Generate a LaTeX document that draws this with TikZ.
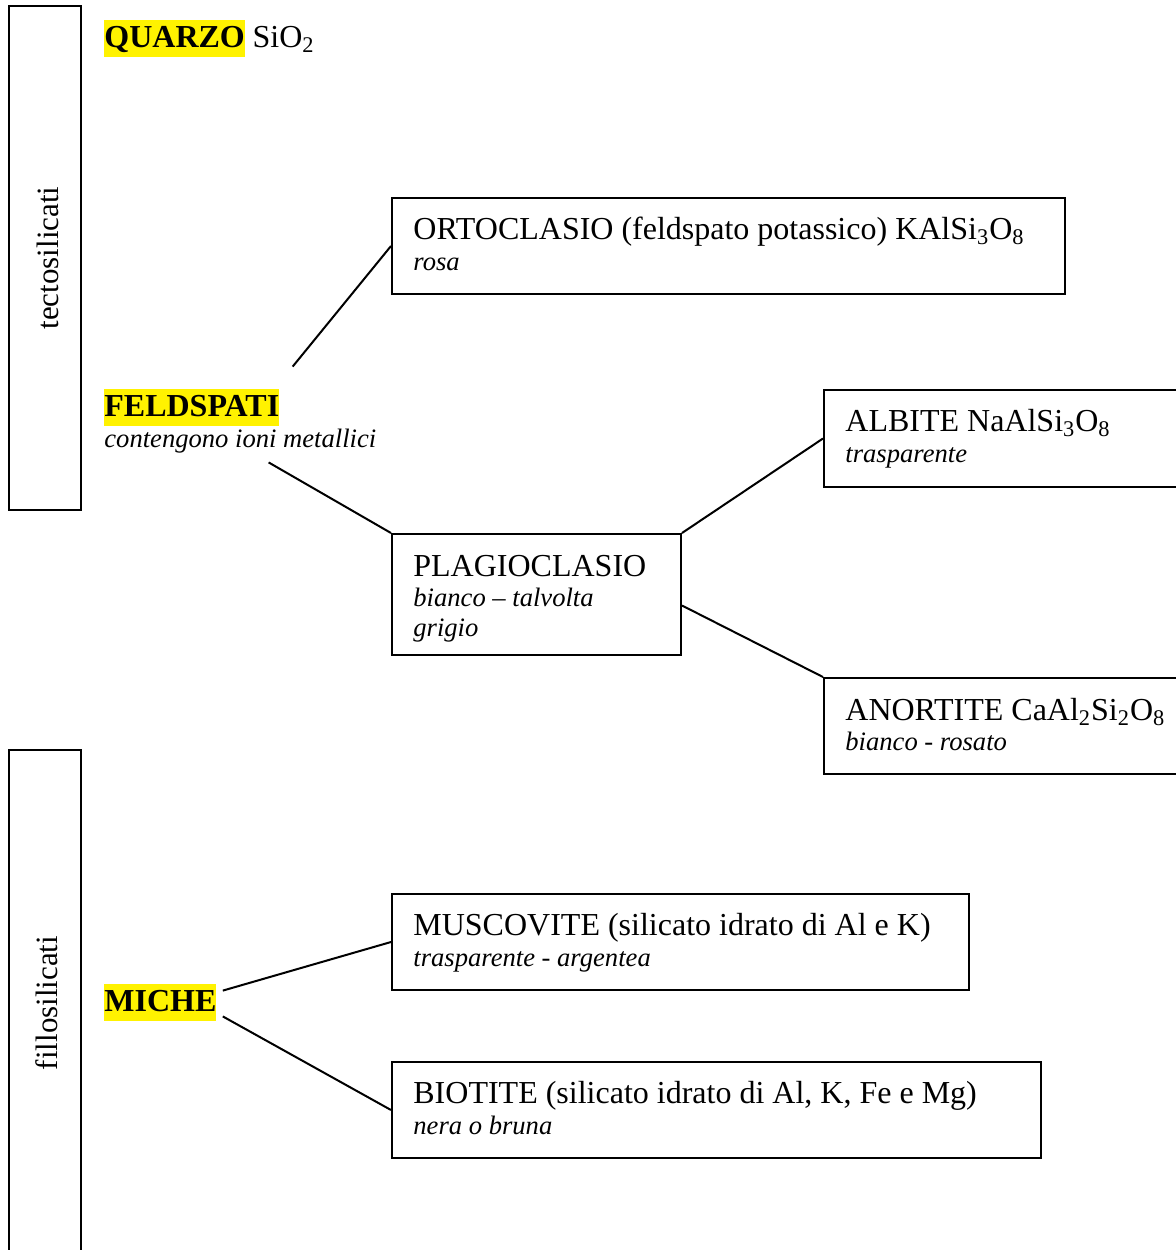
\documentclass[tikz,border=0pt]{standalone}
\usepackage{fontspec}
\setmainfont{Liberation Serif}
\usetikzlibrary{calc}
\usetikzlibrary{positioning}
\tikzset{
thickline/.style={line width=1pt},
mbox/.style 2 args={draw, thickline, anchor=north west, inner sep=0pt,
	minimum width=#1, minimum height=#2},
mname/.style={anchor=base west, inner sep=0pt, font=\fontsize{16}{19}\selectfont},
mnote/.style={anchor=base west, inner sep=0pt, align=left,
	font=\fontsize{13.3}{15}\selectfont\itshape},
hilite/.style={fill=yellow, anchor=base west, inner sep=0pt, text height=13.5pt,
	text depth=5pt, font=\fontsize{16}{19}\selectfont\bfseries},
family/.style={draw, thickline, anchor=north west, inner sep=0pt,
	minimum width=36pt, minimum height=#1},
famname/.style={rotate=90, inner sep=0pt, font=\fontsize{15.5}{18}\selectfont},
branch/.style={thickline},
}
\begin{document}
\begin{tikzpicture}[x=0.5pt, y=-0.5pt]
	\useasboundingbox (0,0) rectangle (1175,1250);
	
	%
	\node[family=252pt] (tecto) at (8,5) {};
	\node[famname] (tecto-t) at (48,258) {tectosilicati};
	\node[family=256pt] (fillo) at (8,749) {};
	\node[famname] (fillo-t) at (47,1003) {fillosilicati};
	
	%
	\node[hilite] (quarzo) at (104,47) {QUARZO};
	\node[mname, right=3.5pt of quarzo.base east, anchor=base west] (sio) {SiO\textsubscript{2}};
	
	\node[hilite] (feld) at (104,416) {FELDSPATI};
	\node[mnote] (feld-n) at ($(feld.base west)+(0,31)$) {contengono ioni metallici};
	
	\node[hilite] (miche) at (104,1011) {MICHE};
	
	%
	\node[mbox={336.5pt}{48pt}] (orto) at (391,197) {};
	\node[mname] (orto-a) at ($(orto.north west)+(22,42)$) {ORTOCLASIO (feldspato potassico) KAlSi\textsubscript{3}O\textsubscript{8}};
	\node[mnote] (orto-b) at ($(orto-a.base west)+(0,31)$) {rosa};
	
	\node[mbox={144.5pt}{60.5pt}] (plag) at (391,533) {};
	\node[mname] (plag-a) at ($(plag.north west)+(22,43)$) {PLAGIOCLASIO};
	\node[mnote] (plag-b) at ($(plag-a.base west)+(0,60)$) {bianco -- talvolta\\grigio};
	
	\node[mbox={185pt}{48.5pt}] (albite) at (823,389) {};
	\node[mname] (albite-a) at ($(albite.north west)+(22,42)$) {ALBITE NaAlSi\textsubscript{3}O\textsubscript{8}};
	\node[mnote] (albite-b) at ($(albite-a.base west)+(0,31)$) {trasparente};
	
	\node[mbox={185pt}{48pt}] (anor) at (823,677) {};
	\node[mname] (anor-a) at ($(anor.north west)+(22,43)$) {ANORTITE CaAl\textsubscript{2}Si\textsubscript{2}O\textsubscript{8}};
	\node[mnote] (anor-b) at ($(anor-a.base west)+(0,30)$) {bianco - rosato};
	
	\node[mbox={288.5pt}{48pt}] (musc) at (391,893) {};
	\node[mname] (musc-a) at ($(musc.north west)+(22,42)$) {MUSCOVITE (silicato idrato di Al e K)};
	\node[mnote] (musc-b) at ($(musc-a.base west)+(0,31)$) {trasparente - argentea};
	
	\node[mbox={324.5pt}{48pt}] (bio) at (391,1061) {};
	\node[mname] (bio-a) at ($(bio.north west)+(22,42)$) {BIOTITE (silicato idrato di Al, K, Fe e Mg)};
	\node[mnote] (bio-b) at ($(bio-a.base west)+(0,31)$) {nera o bruna};
	
	%
	\coordinate (feld-up) at ($(feld.north east)+(13,-22)$);
	\coordinate (feld-down) at ($(feld.south east)+(-11,36)$);
	\coordinate (plag-r) at ($(plag.east)+(0,11)$);
	\coordinate (miche-up) at ($(miche.north east)+(6,7)$);
	\coordinate (miche-down) at ($(miche.south east)+(6,-5)$);
	
	\draw[branch] (feld-up) -- (orto.west);
	\draw[branch] (feld-down) -- (plag.north west);
	\draw[branch] (plag.north east) -- (albite.west);
	\draw[branch] (plag-r) -- (anor.north west);
	\draw[branch] (miche-up) -- (musc.west);
	\draw[branch] (miche-down) -- (bio.west);
\end{tikzpicture}
\end{document}
